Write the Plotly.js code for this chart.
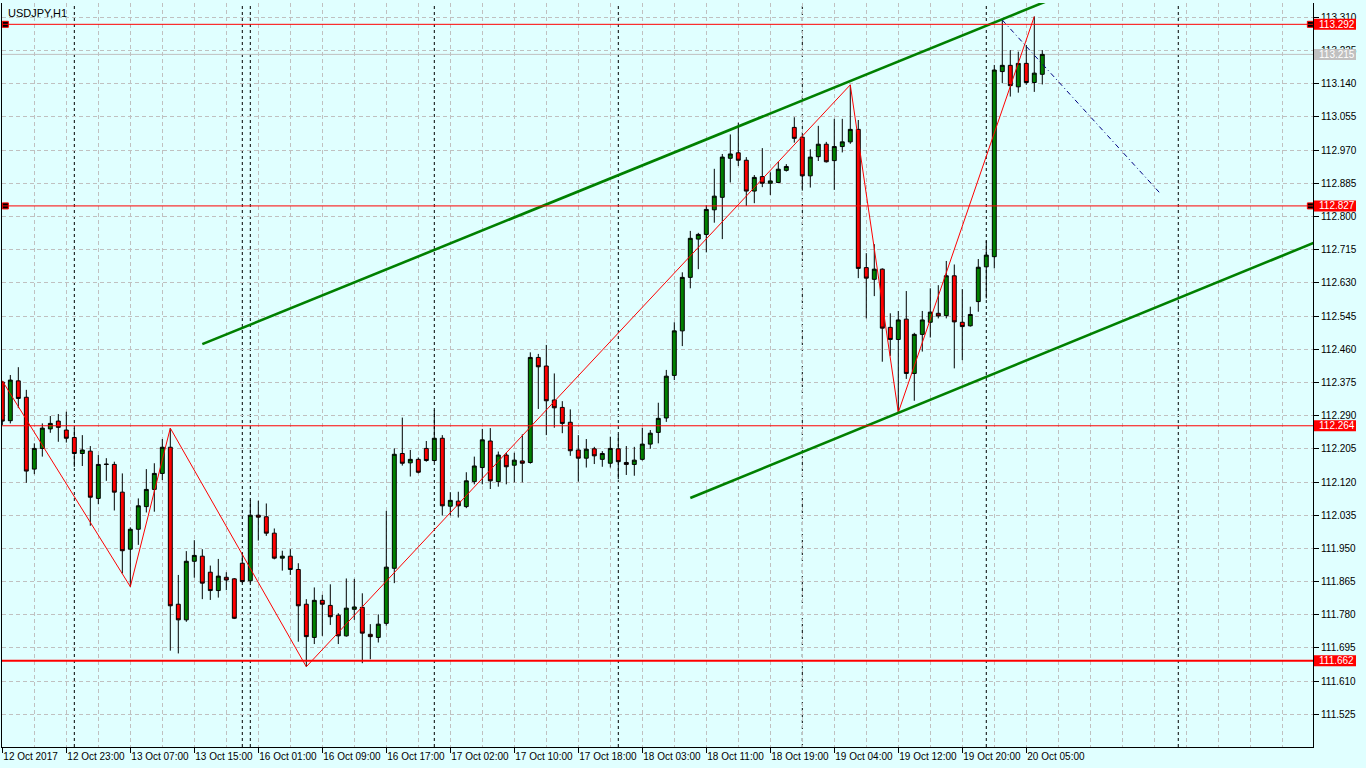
<!DOCTYPE html>
<html><head><meta charset="utf-8">
<script src="https://cdn.plot.ly/plotly-3.0.1.min.js"></script>
<style>html,body{margin:0;padding:0;background:#e0ffff;overflow:hidden}#chart{width:1366px;height:768px}</style>
</head><body><div id="chart"></div>
<script>
const symbolTitle = 'USDJPY,H1';

const openP = [112.376,112.277,112.379,112.337,112.153,112.206,112.256,112.276,112.253,112.234,
112.193,112.199,112.078,112.166,112.165,112.094,111.948,111.999,112.057,112.101,
112.142,112.209,111.807,111.767,111.917,111.930,111.889,111.842,111.876,111.872,
111.912,111.867,112.035,112.031,111.989,111.925,111.930,111.896,111.807,111.722,
111.817,111.804,111.779,111.726,111.794,111.799,111.730,111.722,111.758,111.899,
112.193,112.169,112.178,112.206,112.175,112.232,112.058,112.071,112.057,112.121,
112.157,112.225,112.121,112.189,112.163,112.174,112.170,112.439,112.417,112.330,
112.311,112.273,112.202,112.181,112.205,112.178,112.168,112.205,112.170,112.165,
112.178,112.217,112.247,112.284,112.393,112.507,112.644,112.742,112.754,112.817,
112.849,112.949,112.963,112.944,112.865,112.902,112.885,112.887,112.918,113.028,
113.003,112.904,112.953,112.985,112.943,112.979,112.991,113.023,112.669,112.639,
112.665,112.516,112.485,112.537,112.398,112.498,112.529,112.552,112.546,112.648,
112.529,112.520,112.582,112.671,112.697,113.171,113.187,113.132,113.192,113.143,
113.164];

const highP = [112.379,112.394,112.414,112.356,112.219,112.270,112.289,112.294,112.300,112.258,
112.240,112.212,112.189,112.181,112.172,112.142,112.004,112.078,112.153,112.168,
112.230,112.258,111.882,111.943,111.971,111.948,111.906,111.923,111.889,111.874,
111.938,112.074,112.072,112.065,112.001,111.944,111.948,111.912,111.820,111.850,
111.831,111.858,111.784,111.873,111.872,111.835,111.756,111.781,112.046,112.206,
112.285,112.202,112.183,112.225,112.304,112.240,112.094,112.095,112.145,112.185,
112.256,112.258,112.198,112.195,112.195,112.242,112.452,112.448,112.471,112.398,
112.327,112.306,112.240,112.230,112.210,112.199,112.236,112.242,112.212,112.210,
112.259,112.253,112.323,112.407,112.529,112.657,112.763,112.758,112.829,112.922,
112.960,113.010,113.040,112.952,112.906,112.975,112.913,112.940,112.934,113.054,
113.009,112.972,113.032,112.991,113.050,113.050,113.137,113.047,112.706,112.729,
112.667,112.552,112.558,112.609,112.502,112.558,112.616,112.624,112.686,112.677,
112.614,112.569,112.691,112.738,113.188,113.303,113.226,113.222,113.239,113.312,
113.226];

const lowP = [112.266,112.270,112.309,112.118,112.140,112.185,112.246,112.223,112.221,112.159,
112.161,112.008,112.063,112.123,112.047,111.886,111.852,111.959,112.042,112.044,
112.125,111.688,111.681,111.762,111.875,111.820,111.818,111.824,111.843,111.769,
111.861,111.862,111.970,111.982,111.922,111.893,111.882,111.711,111.647,111.705,
111.726,111.754,111.705,111.724,111.767,111.656,111.666,111.709,111.752,111.861,
112.162,112.134,112.142,112.172,112.171,112.034,112.034,112.029,112.053,112.114,
112.114,112.102,112.108,112.114,112.119,112.119,112.167,112.307,112.240,112.259,
112.245,112.187,112.121,112.157,112.166,112.159,112.157,112.127,112.138,112.136,
112.175,112.205,112.219,112.274,112.381,112.468,112.616,112.665,112.708,112.784,
112.742,112.887,112.929,112.827,112.834,112.875,112.855,112.885,112.915,112.989,
112.866,112.874,112.942,112.938,112.868,112.964,112.986,112.642,112.539,112.596,
112.428,112.443,112.298,112.384,112.328,112.454,112.490,112.539,112.539,112.411,
112.432,112.518,112.556,112.590,112.667,113.141,113.107,113.117,113.137,113.119,
113.138];

const closeP = [112.276,112.381,112.334,112.148,112.206,112.258,112.270,112.260,112.232,112.193,
112.202,112.081,112.165,112.165,112.094,111.944,111.999,112.059,112.101,112.142,
112.209,111.803,111.767,111.917,111.932,111.861,111.842,111.879,111.869,111.771,
111.865,112.035,112.030,111.989,111.925,111.930,111.896,111.803,111.724,111.817,
111.807,111.775,111.726,111.797,111.800,111.733,111.724,111.756,111.902,112.191,
112.168,112.178,112.145,112.175,112.232,112.059,112.073,112.059,112.123,112.161,
112.228,112.123,112.189,112.159,112.176,112.168,112.439,112.415,112.328,112.310,
112.270,112.200,112.181,112.204,112.187,112.193,112.206,112.172,112.165,112.176,
112.217,112.245,112.283,112.391,112.507,112.644,112.744,112.754,112.818,112.852,
112.952,112.960,112.944,112.865,112.900,112.885,112.891,112.921,112.928,113.000,
112.904,112.952,112.985,112.940,112.979,112.991,113.023,112.667,112.642,112.665,
112.514,112.485,112.535,112.398,112.498,112.535,112.555,112.545,112.648,112.530,
112.518,112.549,112.670,112.701,113.175,113.187,113.135,113.192,113.143,113.167,
113.215];

const xTickBars = [0,8,16,24,32,40,48,56,64,72,80,88,96,104,112,120,128];
const xTickText = ['12 Oct 2017','12 Oct 23:00','13 Oct 07:00','13 Oct 15:00','16 Oct 01:00','16 Oct 09:00',
'16 Oct 17:00','17 Oct 02:00','17 Oct 10:00','17 Oct 18:00','18 Oct 03:00','18 Oct 11:00','18 Oct 19:00',
'19 Oct 04:00','19 Oct 12:00','19 Oct 20:00','20 Oct 05:00'];
const yTicks = [111.525,111.610,111.695,111.780,111.865,111.950,112.035,112.120,112.205,112.290,112.375,
112.460,112.545,112.630,112.715,112.800,112.885,112.970,113.055,113.140,113.225,113.310];

const separatorBars = [9,30,31,54,77,100,123,147];
const levelPrices = [113.292,112.827,112.264,111.662];
const bidPrice = 113.215;
const zigzagBars = [0,16,21,38,106,112,129];
const zigzagPrices = [112.379,111.852,112.258,111.647,113.137,112.298,113.312];
const upperBars = [25,106];
const upperPrices = [112.473,113.147];
const lowerBars = [86,112];
const lowerPrices = [112.079,112.297];
const projBars = [125,144.7];
const projPrices = [113.303,112.860];

// ---- view ----
const xRange = [-0.04, 163.84];
const yRange = [111.4414, 113.3466];
const FONT = 'Liberation Sans, Arial, sans-serif';
const FS = 10;
const BG = '#e0ffff';
const GRID = '#c0c0c0';

const idx = openP.map((_, i) => i);

function ray(bx, py) {
  const slope = (py[1] - py[0]) / (bx[1] - bx[0]);
  const xe = xRange[1] + 2;
  return {x: [bx[0], xe], y: [py[0], py[0] + slope * (xe - bx[0])]};
}
const up = ray(upperBars, upperPrices);
const lo = ray(lowerBars, lowerPrices);

const traces = [
  {type:'candlestick', x: idx, open: openP, high: highP, low: lowP, close: closeP,
   increasing:{line:{color:'#000000', width:1}, fillcolor:'#008000'},
   decreasing:{line:{color:'#000000', width:1}, fillcolor:'#ff0000'},
   whiskerwidth:0, hoverinfo:'skip', showlegend:false},
  {type:'scatter', mode:'lines', x: zigzagBars, y: zigzagPrices,
   line:{color:'#ff0000', width:1}, hoverinfo:'skip', showlegend:false},
  {type:'scatter', mode:'lines', x: up.x, y: up.y,
   line:{color:'#008000', width:2.6}, hoverinfo:'skip', showlegend:false},
  {type:'scatter', mode:'lines', x: lo.x, y: lo.y,
   line:{color:'#008000', width:2.6}, hoverinfo:'skip', showlegend:false},
  {type:'scatter', mode:'lines', x: projBars, y: projPrices,
   line:{color:'#000080', width:1, dash:'5px,3px,1px,3px'}, hoverinfo:'skip', showlegend:false},
  {type:'scatter', mode:'markers', cliponaxis:false,
   x: [xRange[0]+0.42, xRange[1]-0.33, xRange[0]+0.42, xRange[1]-0.33],
   y: [levelPrices[0], levelPrices[0], levelPrices[1], levelPrices[1]],
   marker:{symbol:'square', size:6, color:'#000000', line:{color:'#ff0000', width:1}},
   hoverinfo:'skip', showlegend:false}
];

const shapes = [];
separatorBars.forEach(b => shapes.push({type:'line', xref:'x', yref:'paper', x0:b, x1:b, y0:0, y1:1,
  line:{color:'#000000', width:1, dash:'3px,3px'}, layer:'between'}));
shapes.push({type:'line', xref:'paper', yref:'y', x0:0, x1:1, y0:bidPrice, y1:bidPrice,
  line:{color:'#c0c0c0', width:1}, layer:'between'});
levelPrices.forEach((p, i) => shapes.push({type:'line', xref:'paper', yref:'y', x0:0, x1:1, y0:p, y1:p,
  line:{color:'#ff0000', width: i === 3 ? 2 : 1}, layer:'above'}));

const annotations = [{xref:'paper', yref:'paper', x:0, y:1, xanchor:'left', yanchor:'top', xshift:4, yshift:-2,
  text: symbolTitle, showarrow:false, font:{family:FONT, size:11, color:'#000000'}}];

function priceBox(p, color) {
  shapes.push({type:'rect', xref:'paper', yref:'y', xsizemode:'pixel', ysizemode:'pixel',
    xanchor:1, yanchor:p, x0:1, x1:43, y0:-5.5, y1:5.5, fillcolor:color, line:{width:0}, layer:'above'});
  annotations.push({xref:'paper', yref:'y', x:1, y:p, xanchor:'left', yanchor:'middle', xshift:4,
    text:p.toFixed(3), showarrow:false, font:{family:FONT, size:FS, color:'#ffffff'}});
}
levelPrices.forEach(p => priceBox(p, '#ff0000'));
priceBox(bidPrice, '#c0c0c0');

const layout = {
  width:1366, height:768,
  margin:{l:2, r:53, t:3, b:21, pad:0},
  paper_bgcolor: BG, plot_bgcolor: BG,
  showlegend:false,
  font:{family:FONT, size:FS, color:'#000000'},
  xaxis:{range:xRange, fixedrange:true, rangeslider:{visible:false},
    tickmode:'array', tickvals:xTickBars, ticktext:xTickText, tickangle:0,
    ticks:'outside', ticklen:5, tickcolor:'#000000', tickwidth:1,
    ticklabelposition:'outside right',
    tickfont:{family:FONT, size:FS, color:'#000000'},
    showline:true, linecolor:'#000000', linewidth:1,
    showgrid:true, gridcolor:GRID, gridwidth:1, griddash:'4px,3px',
    minor:{dtick:4, tick0:0, showgrid:true, gridcolor:GRID, gridwidth:1, griddash:'4px,3px', ticks:''},
    zeroline:false},
  yaxis:{range:yRange, fixedrange:true, side:'right',
    tickmode:'array', tickvals:yTicks, ticktext:yTicks.map(v => v.toFixed(3)),
    ticks:'outside', ticklen:5, tickcolor:'#000000', tickwidth:1,
    tickfont:{family:FONT, size:FS, color:'#000000'},
    showline:true, mirror:true, linecolor:'#000000', linewidth:1,
    showgrid:true, gridcolor:GRID, gridwidth:1, griddash:'4px,3px',
    zeroline:false},
  shapes: shapes,
  annotations: annotations,
  boxgap:0.3
};

Plotly.newPlot('chart', traces, layout, {displayModeBar:false, staticPlot:true});
</script>
</body></html>
